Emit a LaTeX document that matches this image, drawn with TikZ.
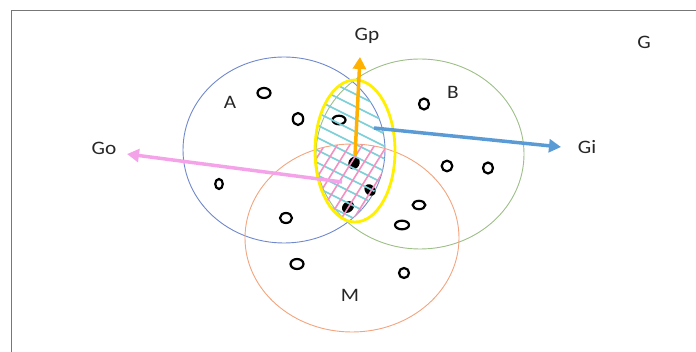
\documentclass[tikz,border=0pt]{standalone}
\usepackage{fontspec}
\setmainfont{Carlito}
\usetikzlibrary{arrows.meta}
\definecolor{cA}{HTML}{7088CC}
\definecolor{cB}{HTML}{9DBF88}
\definecolor{cM}{HTML}{F2A57E}
\definecolor{cY}{HTML}{FFF000}
\definecolor{cOr}{HTML}{FFB000}
\definecolor{cBl}{HTML}{5B9BD5}
\definecolor{cPk}{HTML}{F5A3E8}
\definecolor{cCy}{HTML}{7DCFD8}
\definecolor{cPh}{HTML}{F590C2}
\definecolor{cFr}{HTML}{777777}
\begin{document}
\begin{tikzpicture}[x=1pt,y=-1pt,
  lbl/.style={font=\fontsize{19}{22}\selectfont, text=black!85, inner sep=0pt},
  setline/.style={line width=0.9pt},
  opendot/.style={draw=black, line width=2.2pt},
  arr/.style={line width=3.5pt, -{Triangle[length=12pt,width=13pt]}},
  hatchC/.style={draw=cCy, line width=1.6pt},
  hatchP/.style={draw=cPh, line width=1.6pt}]
\useasboundingbox (0,0) rectangle (696,352);
% frame
\draw[cFr, line width=1pt] (11.5,352) -- (11.5,10.5) -- (696,10.5);
% sets
\draw[setline, cA] (284,150) ellipse [x radius=101pt, y radius=93pt];
\draw[setline, cB] (420,154) ellipse [x radius=104pt, y radius=95pt];
\draw[setline, cM] (352,238) ellipse [x radius=107pt, y radius=94pt];
% open elements
\draw[opendot] (264,93) ellipse [x radius=6.5pt, y radius=5pt];
\draw[opendot] (298,119) ellipse [x radius=5.2pt, y radius=6pt];
\draw[opendot] (339,120) ellipse [x radius=6.5pt, y radius=4.3pt];
\draw[opendot] (424,104) ellipse [x radius=5pt, y radius=5.5pt];
\draw[opendot] (447,166) ellipse [x radius=5.3pt, y radius=5.3pt];
\draw[opendot] (488,168) ellipse [x radius=5pt, y radius=5.5pt];
\draw[opendot] (219,184) ellipse [x radius=3.8pt, y radius=5pt];
\draw[opendot] (286,218) ellipse [x radius=6pt, y radius=5pt];
\draw[opendot] (419,205) ellipse [x radius=6.3pt, y radius=4.2pt];
\draw[opendot] (402,225) ellipse [x radius=7pt, y radius=4.3pt];
\draw[opendot] (297,264) ellipse [x radius=6.5pt, y radius=5pt];
\draw[opendot] (404,273) ellipse [x radius=5pt, y radius=5pt];
% filled elements
\fill[rotate around={-30:(354,163)}] (354,163) ellipse [x radius=5.5pt, y radius=6.5pt];
\fill[rotate around={40:(370,190)}] (370,190) ellipse [x radius=5pt, y radius=6.3pt];
\fill[rotate around={-50:(348,207)}] (348,207) ellipse [x radius=5.3pt, y radius=6.5pt];
% hatching
\begin{scope}
  \clip (355,151) ellipse [x radius=40pt, y radius=71pt];
  \clip (284,150) ellipse [x radius=101pt, y radius=93pt];
  \foreach \k in {0,...,30} {
    \draw[hatchC] (250,{-96+12.5*\k}) -- (460,{-96+12.5*\k+105});
  }
  \clip (352,238) ellipse [x radius=107pt, y radius=94pt];
  \foreach \k in {-6,...,6} {
    \draw[hatchP] ({346.7+12.5*\k-50},270) -- ({346.7+12.5*\k+50},110);
  }
\end{scope}
% yellow ellipse
\draw[cY, line width=2.8pt] (355,151) ellipse [x radius=40pt, y radius=71pt];
% labels
\node[lbl] (Gp) at (367,36) {\scalebox{1.12}[1]{Gp}};
\node[lbl] (G) at (644,42) {\scalebox{1.12}[1]{G}};
\node[lbl] (Go) at (104,148) {\scalebox{1.12}[1]{Go}};
\node[lbl] (Gi) at (587,147) {\scalebox{1.12}[1]{Gi}};
\node[lbl] (A) at (230,102) {\scalebox{1.12}[1]{A}};
\node[lbl] (B) at (453,92) {\scalebox{1.12}[1]{B}};
\node[lbl] (M) at (350,295) {\scalebox{1.12}[1]{M}};
% arrows
\coordinate (pS) at (355,156);
\coordinate (pT) at (360,57);
\coordinate (iS) at (374,128);
\coordinate (iT) at (561,147);
\coordinate (oS) at (342,182);
\coordinate (oT) at (127,154);
\draw[arr, cOr] (pS) -- (pT);
\draw[arr, cBl] (iS) -- (iT);
\draw[arr, cPk] (oS) -- (oT);
\end{tikzpicture}
\end{document}
